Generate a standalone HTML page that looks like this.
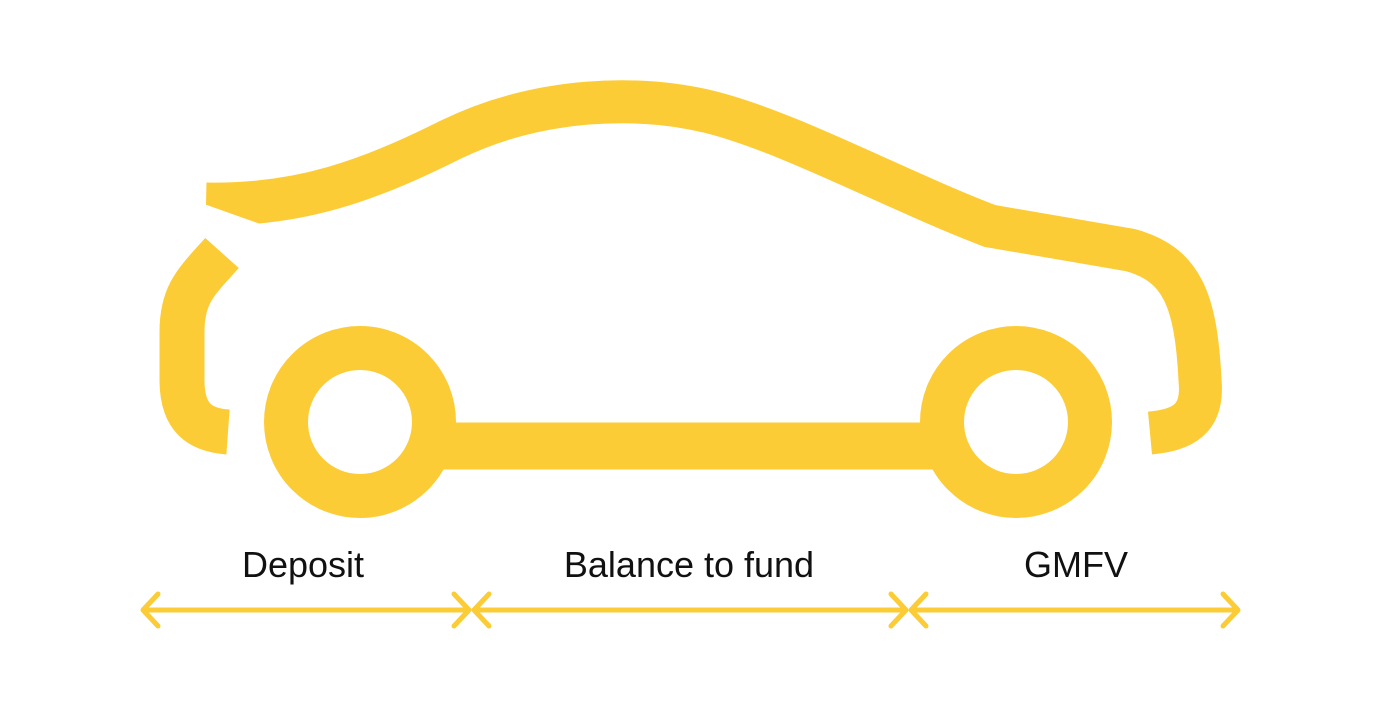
<!DOCTYPE html>
<html><head><meta charset="utf-8"><style>
html,body{margin:0;padding:0;background:#fff;}
svg{display:block}
text{font-family:"Liberation Sans",sans-serif;font-size:36px;fill:#111;}
</style></head><body>
<svg width="1379" height="715" viewBox="0 0 1379 715">
<g fill="none" stroke="#FCCC36" stroke-linecap="butt">
<path d="M206,204 C300,206 370,180 450,140 C540,96 640,95 710,112 C790,132 900,192 990,226 L1130,250 C1182,264 1196,300 1200,380 C1204,420 1182,430 1150,433" stroke-width="43"/>
<path d="M222,253 C196,282 182,294 182,332 L182,380 C182,418 200,430 228,432" stroke-width="45"/>
<circle cx="360" cy="422" r="74" stroke-width="44"/>
<circle cx="1016" cy="422" r="74" stroke-width="44"/>
<line x1="430" y1="446" x2="945" y2="446" stroke-width="47"/>
</g>
<polygon points="204,204 266,226 266,232 204,232" fill="#fff"/>
<g fill="none" stroke="#FCCC36" stroke-width="5" stroke-linecap="round" stroke-linejoin="round">
<line x1="145" y1="610" x2="468" y2="610"/>
<polyline points="158,594 143,610 158,626"/>
<polyline points="454,594 469,610 454,626"/>
<line x1="475" y1="610" x2="905" y2="610"/>
<polyline points="489,594 474,610 489,626"/>
<polyline points="891,594 906,610 891,626"/>
<line x1="912" y1="610" x2="1237" y2="610"/>
<polyline points="926,594 911,610 926,626"/>
<polyline points="1223,594 1238,610 1223,626"/>
</g>
<text x="303" y="577" text-anchor="middle">Deposit</text>
<text x="689" y="577" text-anchor="middle">Balance to fund</text>
<text x="1076" y="577" text-anchor="middle">GMFV</text>
</svg>
</body></html>
